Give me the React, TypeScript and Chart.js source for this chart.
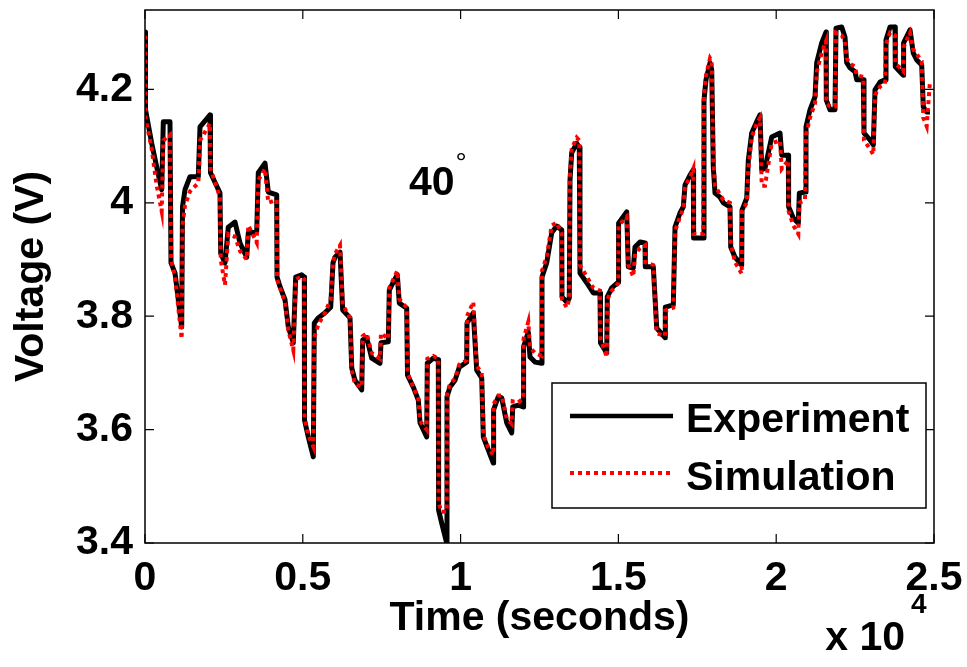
import React, { useEffect, useRef } from "react";
import { Chart, registerables } from "chart.js";

Chart.register(...registerables);

// ---- data (time in seconds, voltage in volts) ----
const TIME_S = [
  0, 16, 212, 371, 529, 580, 792, 824, 951, 1055,
  1163, 1188, 1267, 1426, 1689, 1743, 2060, 2075, 2376, 2399,
  2535, 2639, 2852, 3010, 3222, 3273, 3539, 3590, 3802, 3907,
  4173, 4183, 4278, 4436, 4541, 4699, 4775, 4965, 5048, 5054,
  5174, 5333, 5364, 5491, 5703, 5884, 5957, 6020, 6179, 6264,
  6496, 6550, 6654, 6866, 6898, 7025, 7183, 7446, 7478, 7709,
  7741, 7868, 7994, 8058, 8292, 8318, 8501, 8660, 8714, 8926,
  8945, 9135, 9294, 9303, 9401, 9560, 9569, 9664, 9823, 9959,
  10193, 10203, 10403, 10510, 10669, 10720, 10878, 11036, 11046, 11195,
  11302, 11461, 11619, 11651, 11829, 11987, 11996, 12145, 12199, 12358,
  12570, 12579, 12728, 12887, 13045, 13204, 13213, 13362, 13444, 13467,
  13520, 13679, 13761, 13783, 13996, 14205, 14417, 14433, 14630, 14648,
  14788, 14997, 15006, 15263, 15314, 15472, 15526, 15685, 15843, 15853,
  16106, 16214, 16477, 16486, 16740, 16794, 16952, 17057, 17110, 17269,
  17374, 17383, 17690, 17712, 17776, 17903, 17957, 18007, 18061, 18219,
  18324, 18536, 18559, 18695, 18907, 18917, 19066, 19116, 19224, 19382,
  19487, 19541, 19645, 19858, 20121, 20175, 20384, 20393, 20542, 20701,
  20733, 20913, 20944, 21071, 21230, 21284, 21442, 21578, 21588, 21705,
  21863, 21895, 22076, 22180, 22234, 22339, 22497, 22551, 22760, 22782,
  22972, 23077, 23131, 23289, 23448, 23479, 23606, 23765, 23774, 23923,
  24027, 24037, 24240, 24344, 24452, 24610, 24661, 24769, 24874,
];

const EXPERIMENT_V = [
  4.301, 4.164, 4.105, 4.063, 4.023, 4.143, 4.143, 3.894, 3.876, 3.829,
  3.781, 3.993, 4.023, 4.046, 4.046, 4.134, 4.155, 4.053, 4.017, 3.911,
  3.894, 3.957, 3.966, 3.929, 3.904, 3.947, 3.948, 4.053, 4.07, 4.019,
  4.014, 3.869, 3.852, 3.829, 3.781, 3.753, 3.869, 3.873, 3.869, 3.617,
  3.587, 3.552, 3.788, 3.797, 3.806, 3.816, 3.894, 3.904, 3.913, 3.811,
  3.797, 3.709, 3.687, 3.67, 3.758, 3.762, 3.726, 3.717, 3.753, 3.755,
  3.846, 3.86, 3.873, 3.823, 3.814, 3.696, 3.675, 3.652, 3.612, 3.587,
  3.717, 3.726, 3.723, 3.458, 3.435, 3.4, 3.658, 3.675, 3.687, 3.71,
  3.719, 3.788, 3.806, 3.705, 3.691, 3.587, 3.564, 3.541, 3.635, 3.658,
  3.656, 3.612, 3.594, 3.64, 3.643, 3.64, 3.746, 3.772, 3.728, 3.719,
  3.717, 3.869, 3.894, 3.947, 3.959, 3.952, 3.834, 3.825, 3.832, 4.04,
  4.088, 4.105, 4.098, 3.876, 3.859, 3.841, 3.841, 3.753, 3.735, 3.834,
  3.85, 3.86, 3.964, 3.984, 3.887, 3.885, 3.922, 3.931, 3.929, 3.887,
  3.887, 3.779, 3.762, 3.816, 3.82, 3.957, 3.982, 3.993, 4.031, 4.049,
  4.058, 3.938, 3.938, 4.181, 4.217, 4.247, 4.234, 4.063, 4.017, 4.01,
  4.0, 3.993, 3.922, 3.904, 3.89, 3.987, 4.008, 4.075, 4.123, 4.143,
  4.155, 4.058, 4.061, 4.116, 4.123, 4.084, 4.084, 3.993, 3.973, 3.964,
  4.017, 4.019, 4.134, 4.164, 4.187, 4.247, 4.282, 4.301, 4.181, 4.164,
  4.164, 4.308, 4.31, 4.292, 4.247, 4.238, 4.231, 4.217, 4.217, 4.123,
  4.111, 4.102, 4.199, 4.213, 4.217, 4.287, 4.31, 4.31, 4.24, 4.231,
  4.225, 4.282, 4.305, 4.264, 4.252, 4.243, 4.169, 4.16, 4.16,
];

const SIMULATION_V = [
  4.295, 4.15, 4.095, 4.03, 3.985, 4.11, 4.12, 3.9, 3.87, 3.815,
  3.76, 3.96, 3.995, 4.02, 4.035, 4.11, 4.14, 4.06, 4.01, 3.9,
  3.855, 3.945, 3.94, 3.915, 3.9, 3.96, 3.93, 4.04, 4.06, 4.0,
  4.005, 3.865, 3.85, 3.825, 3.775, 3.74, 3.865, 3.87, 3.865, 3.62,
  3.59, 3.57, 3.763, 3.785, 3.806, 3.83, 3.894, 3.91, 3.925, 3.82,
  3.797, 3.705, 3.68, 3.675, 3.765, 3.77, 3.735, 3.725, 3.77, 3.76,
  3.85, 3.865, 3.88, 3.83, 3.815, 3.7, 3.675, 3.655, 3.615, 3.6,
  3.725, 3.73, 3.725, 3.47, 3.455, 3.455, 3.665, 3.68, 3.69, 3.715,
  3.722, 3.8, 3.825, 3.712, 3.7, 3.59, 3.568, 3.555, 3.645, 3.66,
  3.66, 3.62, 3.61, 3.65, 3.648, 3.655, 3.76, 3.79, 3.745, 3.735,
  3.73, 3.88, 3.905, 3.96, 3.965, 3.945, 3.83, 3.815, 3.83, 4.05,
  4.095, 4.115, 4.11, 3.89, 3.87, 3.85, 3.845, 3.76, 3.728, 3.83,
  3.845, 3.858, 3.96, 3.975, 3.89, 3.87, 3.91, 3.92, 3.925, 3.895,
  3.89, 3.77, 3.765, 3.81, 3.815, 3.95, 3.975, 3.99, 4.028, 4.045,
  4.06, 3.945, 3.945, 4.19, 4.225, 4.255, 4.25, 4.075, 4.03, 4.015,
  4.005, 4.0, 3.93, 3.895, 3.875, 3.985, 4.0, 4.06, 4.115, 4.14,
  4.15, 4.03, 4.03, 4.105, 4.11, 4.06, 4.075, 3.985, 3.96, 3.945,
  4.0, 4.005, 4.12, 4.15, 4.175, 4.23, 4.265, 4.285, 4.175, 4.17,
  4.17, 4.3, 4.295, 4.285, 4.255, 4.245, 4.24, 4.225, 4.222, 4.11,
  4.095, 4.085, 4.19, 4.205, 4.21, 4.28, 4.3, 4.295, 4.245, 4.238,
  4.232, 4.275, 4.3, 4.27, 4.262, 4.25, 4.15, 4.135, 4.215,
];

const X_TICKS = [0, 5000, 10000, 15000, 20000, 25000];
const Y_TICKS = [3.4, 3.6, 3.8, 4.0, 4.2];
const X_MIN = 0;
const X_MAX = 25000;
const Y_MIN = 3.4;
const Y_MAX = 4.34;
const X_TITLE = "Time (seconds)";
const Y_TITLE = "Voltage (V)";
const SERIES_NAMES = ["Experiment", "Simulation"];
const ANNOTATION_TEXT = "40";
const ANNOTATION_T = 8365;
const ANNOTATION_V = 4.014;
const EXPONENT_BASE = "x 10";
const EXPONENT_POWER = "4";

const FAMILY = "'Liberation Sans', Arial, Helvetica, sans-serif";
const FSIZE = 41;

const zeroPadding = (s: any) => {
  s.paddingTop = 0;
  s.paddingBottom = 0;
  s.paddingLeft = 0;
  s.paddingRight = 0;
};

const decorPlugin = {
  id: "matlabDecor",
  afterDraw(chart: any) {
    const { ctx, chartArea, scales } = chart;
    const { left, right, top, bottom } = chartArea;
    const xs = scales.x;
    const ys = scales.y;
    ctx.save();

    // axes box
    ctx.strokeStyle = "#000";
    ctx.lineWidth = 1.5;
    ctx.strokeRect(left, top, right - left, bottom - top);

    // inward tick marks
    const TL = 9;
    ctx.lineWidth = 1.2;
    ctx.beginPath();
    for (const v of X_TICKS) {
      const px = xs.getPixelForValue(v);
      ctx.moveTo(px, bottom);
      ctx.lineTo(px, bottom - TL);
      ctx.moveTo(px, top);
      ctx.lineTo(px, top + TL);
    }
    for (const v of Y_TICKS) {
      const py = ys.getPixelForValue(v);
      ctx.moveTo(left, py);
      ctx.lineTo(left + TL, py);
      ctx.moveTo(right, py);
      ctx.lineTo(right - TL, py);
    }
    ctx.stroke();

    // annotation "40°"
    ctx.fillStyle = "#000";
    ctx.textAlign = "left";
    ctx.textBaseline = "alphabetic";
    ctx.font = `bold ${FSIZE}px ${FAMILY}`;
    const ax = xs.getPixelForValue(ANNOTATION_T);
    const ay = ys.getPixelForValue(ANNOTATION_V);
    ctx.fillText(ANNOTATION_TEXT, ax, ay);
    const aw = ctx.measureText(ANNOTATION_TEXT).width;
    ctx.font = `28px ${FAMILY}`;
    ctx.fillText("°", ax + aw + 1, ay - 23);

    // exponent "x 10^4"
    ctx.font = `bold ${FSIZE}px ${FAMILY}`;
    ctx.textAlign = "right";
    ctx.fillText(EXPONENT_BASE, right - 29, 650);
    ctx.textAlign = "left";
    ctx.font = `bold 28px ${FAMILY}`;
    ctx.fillText(EXPONENT_POWER, right - 23, 613);

    // legend
    const lx0 = 552, ly0 = 383, lx1 = 926, ly1 = 508;
    ctx.fillStyle = "#fff";
    ctx.fillRect(lx0, ly0, lx1 - lx0, ly1 - ly0);
    ctx.strokeStyle = "#000";
    ctx.lineWidth = 1.5;
    ctx.strokeRect(lx0, ly0, lx1 - lx0, ly1 - ly0);

    ctx.lineWidth = 4.5;
    ctx.setLineDash([]);
    ctx.beginPath();
    ctx.moveTo(570, 416);
    ctx.lineTo(673, 416);
    ctx.stroke();

    ctx.strokeStyle = "#ff0000";
    ctx.lineWidth = 4;
    ctx.setLineDash([4, 4]);
    ctx.beginPath();
    ctx.moveTo(570, 473);
    ctx.lineTo(673, 473);
    ctx.stroke();
    ctx.setLineDash([]);

    ctx.fillStyle = "#000";
    ctx.font = `bold ${FSIZE}px ${FAMILY}`;
    ctx.textAlign = "left";
    ctx.fillText(SERIES_NAMES[0], 686, 432);
    ctx.fillText(SERIES_NAMES[1], 686, 490);

    ctx.restore();
  },
};

export default function App() {
  const ref = useRef<HTMLCanvasElement | null>(null);

  useEffect(() => {
    const canvas = ref.current;
    if (!canvas) return;
    const tickFont = { family: FAMILY, size: FSIZE, weight: "bold" as const, lineHeight: 1.2 };
    const chart = new Chart(canvas, {
      type: "line",
      data: {
        datasets: [
          {
            label: SERIES_NAMES[1],
            data: TIME_S.map((t, i) => ({ x: t, y: SIMULATION_V[i] })),
            borderColor: "#ff0000",
            borderWidth: 4,
            borderDash: [4, 4],
            borderCapStyle: "butt",
            pointRadius: 0,
            tension: 0,
            fill: false,
            order: 1,
          },
          {
            label: SERIES_NAMES[0],
            data: TIME_S.map((t, i) => ({ x: t, y: EXPERIMENT_V[i] })),
            borderColor: "#000000",
            borderWidth: 5,
            borderJoinStyle: "round",
            pointRadius: 0,
            tension: 0,
            fill: false,
            order: 2,
          },
        ],
      },
      options: {
        responsive: false,
        animation: false,
        devicePixelRatio: 1,
        layout: { padding: { left: 0, top: 10, right: 33, bottom: 0 } },
        plugins: {
          legend: { display: false },
          tooltip: { enabled: false },
        },
        scales: {
          x: {
            type: "linear",
            min: X_MIN,
            max: X_MAX,
            afterBuildTicks: (s: any) => {
              s.ticks = X_TICKS.map((v) => ({ value: v }));
            },
            afterFit: (s: any) => {
              s.height = 124;
              zeroPadding(s);
            },
            grid: { display: false, drawTicks: false },
            border: { display: false },
            ticks: {
              autoSkip: false,
              maxRotation: 0,
              minRotation: 0,
              padding: 11,
              color: "#000",
              font: tickFont,
              callback: (v: any) => String(Number(v) / 10000),
            },
            title: {
              display: true,
              text: X_TITLE,
              color: "#000",
              font: tickFont,
              padding: { top: 0, bottom: 24 },
            },
          },
          y: {
            type: "linear",
            min: Y_MIN,
            max: Y_MAX,
            afterBuildTicks: (s: any) => {
              s.ticks = Y_TICKS.map((v) => ({ value: v }));
            },
            afterFit: (s: any) => {
              s.width = 145;
              zeroPadding(s);
            },
            grid: { display: false, drawTicks: false },
            border: { display: false },
            ticks: {
              padding: 12,
              color: "#000",
              font: tickFont,
              callback: (v: any) => String(parseFloat(Number(v).toFixed(1))),
            },
            title: {
              display: true,
              text: Y_TITLE,
              color: "#000",
              font: tickFont,
              padding: { top: 7, bottom: 0 },
            },
          },
        },
      },
      plugins: [decorPlugin],
    });
    return () => chart.destroy();
  }, []);

  return (
    <div style={{ position: "fixed", left: 0, top: 0, width: 967, height: 667, background: "#fff" }}>
      <canvas ref={ref} width={967} height={667} style={{ display: "block", width: 967, height: 667 }} />
    </div>
  );
}
